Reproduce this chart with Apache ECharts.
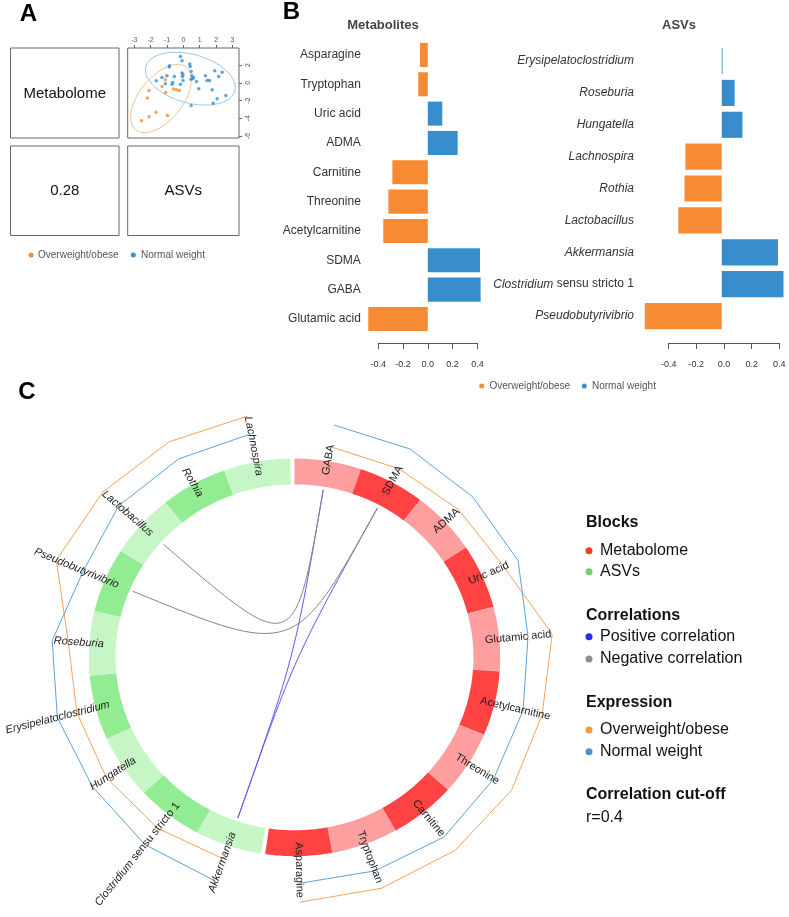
<!DOCTYPE html>
<html><head><meta charset="utf-8">
<script src="https://cdn.jsdelivr.net/npm/echarts@6/dist/echarts.min.js"></script>
<style>html,body{margin:0;padding:0;background:#fff}#c{width:789px;height:917px}</style>
</head><body><div id="c"></div>
<script>
// ================= DATA =================
// Panel A: pairs plot (component 1, Metabolome vs ASVs)
const scatterXTicks = [-3, -2, -1, 0, 1, 2, 3];
const scatterYTicks = [2, 0, -2, -4, -6];
const owObesePoints = [[-1.1,0.34],[-1.3,-0.43],[-0.6,-0.7],[-0.42,-0.79],[-0.25,-0.87],[-1.08,-1.1],[-2.1,-0.88],[-2.2,-1.73],[-1.67,-3.33],[-0.97,-3.7],[-2.09,-3.85],[-2.56,-4.3]];
const normalWeightPoints = [[-0.18,2.97],[-0.08,2.49],[0.39,2.11],[0.42,1.85],[-0.84,1.92],[-0.86,1.79],[0.48,1.28],[-0.08,1.1],[-0.02,0.92],[-0.06,0.72],[0.52,0.8],[0.58,0.45],[0.62,0.6],[0.46,0.41],[-1.0,0.8],[-1.31,0.6],[-1.66,0.22],[-0.55,0.72],[-0.69,-0.16],[-0.65,0.03],[-0.18,-0.16],[-0.02,0.26],[0.8,0.15],[0.94,-0.68],[1.35,0.8],[1.45,0.26],[1.6,0.26],[1.92,1.35],[2.16,0.72],[2.37,1.2],[1.76,-0.8],[2.07,-1.8],[1.82,-2.3],[2.6,-1.43],[0.48,-2.56],[-1.1,-0.12]];
const blockNames = ['Metabolome', 'ASVs'];
const blockCorrelation = '0.28';
const groupNames = ['Overweight/obese', 'Normal weight'];

// Panel B: loadings
const metaboliteNames = ['Asparagine','Tryptophan','Uric acid','ADMA','Carnitine','Threonine','Acetylcarnitine','SDMA','GABA','Glutamic acid'];
const metaboliteLoadings = [-0.063,-0.077,0.117,0.241,-0.286,-0.318,-0.359,0.421,0.426,-0.48];
const asvNames = ['Erysipelatoclostridium','Roseburia','Hungatella','Lachnospira','Rothia','Lactobacillus','Akkermansia','Clostridium sensu stricto 1','Pseudobutyrivibrio'];
const asvLoadings = [0.006,0.096,0.154,-0.27,-0.277,-0.323,0.418,0.459,-0.572];
const loadingTicks = [-0.4, -0.2, 0, 0.2, 0.4];

// Panel C: circos plot
const circosMetabolome = ['GABA','SDMA','ADMA','Uric acid','Glutamic acid','Acetylcarnitine','Threonine','Carnitine','Tryptophan','Asparagine'];
const circosASVs = ['Akkermansia','Clostridium sensu stricto 1','Hungatella','Erysipelatoclostridium','Roseburia','Pseudobutyrivibrio','Lactobacillus','Rothia','Lachnospira'];
const metabOWExpr = [1.074,1.076,1.090,1.115,1.258,1.238,1.249,1.246,1.236,1.232];
const metabNWExpr = [1.184,1.189,1.184,1.191,1.140,1.143,1.145,1.160,1.143,1.137];
const asvOWExpr = [1.071,1.087,1.097,1.094,1.103,1.257,1.249,1.244,1.235];
const asvNWExpr = [1.189,1.190,1.178,1.192,1.181,1.115,1.145,1.146,1.144];
const correlationLinks = [['GABA','Akkermansia',1],['SDMA','Akkermansia',1],['GABA','Lactobacillus',-1],['SDMA','Pseudobutyrivibrio',-1]];
const correlationCutoff = 'r=0.4';

// ================= STYLE / LAYOUT =================
const FONT = "'Liberation Sans', Arial, Helvetica, sans-serif";
const ORANGE = '#F68B33', BLUE = '#388ECC';
const R_OUT = 1.0, R_IN = 0.87, R_LINK = 0.853, R_LABEL = 0.93;
const GAP = 1.2;
const NFEAT = circosMetabolome.length + circosASVs.length;
const SLOT = (360 - 2 * GAP) / NFEAT;
const ringColors = [['#FF9E9E', '#FF4242'], ['#C6F5C6', '#92EC92']];

const features = circosMetabolome.map((n, i) => ({name: n, block: 0, i}))
  .concat(circosASVs.map((n, i) => ({name: n, block: 1, i})));
features.forEach((f, k) => { f.start = k * SLOT + f.block * GAP; f.mid = f.start + SLOT / 2; f.end = f.start + SLOT; });
const featIdx = name => features.findIndex(f => f.name === name);
function toXY(r, deg) { const a = deg * Math.PI / 180; return [r * Math.sin(a), r * Math.cos(a)]; }

function confEllipse(pts, k, n) {
  const m = pts.length;
  const mx = pts.reduce((s, p) => s + p[0], 0) / m, my = pts.reduce((s, p) => s + p[1], 0) / m;
  let sxx = 0, syy = 0, sxy = 0;
  pts.forEach(p => { const dx = p[0] - mx, dy = p[1] - my; sxx += dx * dx; syy += dy * dy; sxy += dx * dy; });
  sxx /= (m - 1); syy /= (m - 1); sxy /= (m - 1);
  const tr = (sxx + syy) / 2, d = Math.sqrt(((sxx - syy) / 2) ** 2 + sxy * sxy);
  const l1 = tr + d, l2 = Math.max(tr - d, 0);
  const th = 0.5 * Math.atan2(2 * sxy, sxx - syy);
  const out = [];
  for (let i = 0; i <= n; i++) {
    const t = 2 * Math.PI * i / n;
    const a = k * Math.sqrt(l1) * Math.cos(t), b = k * Math.sqrt(l2) * Math.sin(t);
    out.push([mx + a * Math.cos(th) - b * Math.sin(th), my + a * Math.sin(th) + b * Math.cos(th)]);
  }
  return out;
}
const CHI95 = Math.sqrt(5.991);

function italicName(n) {
  if (n.indexOf('Clostridium sensu') === 0) return '{i|Clostridium} sensu stricto 1';
  return '{i|' + n + '}';
}

const chart = echarts.init(document.getElementById('c'));

const hiddenValue = (idx, min, max) => ({type: 'value', gridIndex: idx, min, max, show: false});

const series = [];
// Panel A scatter
series.push({type: 'scatter', name: groupNames[0], xAxisIndex: 0, yAxisIndex: 0, data: owObesePoints, symbolSize: 3.5, itemStyle: {color: ORANGE}, z: 5});
series.push({type: 'scatter', name: groupNames[1], xAxisIndex: 0, yAxisIndex: 0, data: normalWeightPoints, symbolSize: 3.5, itemStyle: {color: BLUE}, z: 5});
series.push({type: 'line', xAxisIndex: 0, yAxisIndex: 0, data: confEllipse(owObesePoints, CHI95, 120), showSymbol: false, symbol: 'none', lineStyle: {color: '#F7BF8E', width: 1}, silent: true});
series.push({type: 'line', xAxisIndex: 0, yAxisIndex: 0, data: confEllipse(normalWeightPoints, CHI95, 120), showSymbol: false, symbol: 'none', lineStyle: {color: '#97C7EA', width: 1}, silent: true});
// Panel B bars
function barPair(vals, xi, yi, stack) {
  series.push({type: 'bar', name: groupNames[0], xAxisIndex: xi, yAxisIndex: yi, stack, barWidth: '82%',
    data: vals.map(v => v < 0 ? v : '-'), itemStyle: {color: ORANGE}});
  series.push({type: 'bar', name: groupNames[1], xAxisIndex: xi, yAxisIndex: yi, stack, barWidth: '82%',
    data: vals.map(v => v >= 0 ? v : '-'), itemStyle: {color: BLUE}});
}
barPair(metaboliteLoadings, 1, 1, 'm');
barPair(asvLoadings, 3, 3, 'a');
// Panel C expression lines
function exprLine(vals, block, color) {
  const fs = features.filter(f => f.block === block);
  series.push({type: 'line', xAxisIndex: 5, yAxisIndex: 5, symbol: 'none', showSymbol: false, silent: true,
    data: vals.map((v, i) => toXY(v, fs[i].mid)), lineStyle: {color, width: 1}, z: 2});
}
exprLine(metabOWExpr, 0, '#F7A25C');
exprLine(metabNWExpr, 0, '#5DA2DA');
exprLine(asvOWExpr, 1, '#F7A25C');
exprLine(asvNWExpr, 1, '#5DA2DA');
// ring
series.push({type: 'custom', xAxisIndex: 5, yAxisIndex: 5, silent: true, z: 3,
  data: features.map(f => [f.start, f.end, f.block, f.i % 2]),
  renderItem: (params, api) => {
    const a0 = api.value(0), a1 = api.value(1), N = 24;
    const pts = [];
    for (let t = 0; t <= N; t++) pts.push(api.coord(toXY(R_OUT, a0 + (a1 - a0) * t / N)));
    for (let t = N; t >= 0; t--) pts.push(api.coord(toXY(R_IN, a0 + (a1 - a0) * t / N)));
    return {type: 'polygon', shape: {points: pts}, style: {fill: ringColors[api.value(2)][api.value(3)], stroke: null}};
  }});
// links
series.push({type: 'custom', xAxisIndex: 5, yAxisIndex: 5, silent: true, z: 4,
  data: correlationLinks.map(l => [features[featIdx(l[0])].mid, features[featIdx(l[1])].mid, l[2]]),
  renderItem: (params, api) => {
    const p1 = api.coord(toXY(R_LINK, api.value(0))), p2 = api.coord(toXY(R_LINK, api.value(1)));
    const c = api.coord([0, 0]);
    return {type: 'bezierCurve', shape: {x1: p1[0], y1: p1[1], x2: p2[0], y2: p2[1], cpx1: c[0], cpy1: c[1], cpx2: c[0], cpy2: c[1]},
      style: {stroke: api.value(2) > 0 ? '#5B5BEF' : '#858585', fill: null, lineWidth: 1}};
  }});
// labels
series.push({type: 'custom', xAxisIndex: 5, yAxisIndex: 5, silent: true, z: 6,
  data: features.map((f, k) => [f.mid, k]),
  renderItem: (params, api) => {
    const ang = api.value(0), f = features[api.value(1)];
    const p = api.coord(toXY(R_LABEL, ang)), q = api.coord(toXY(R_LABEL + 0.3, ang));
    let rot = Math.atan2(-(q[1] - p[1]), q[0] - p[0]);
    let align = 'left';
    if (ang > 180) { rot += Math.PI; align = 'right'; }
    const txt = f.block === 1 ? italicName(f.name) : f.name;
    return {type: 'text', x: p[0], y: p[1], rotation: rot,
      style: {text: txt, fill: '#222', fontSize: 11, fontFamily: FONT, align, verticalAlign: 'middle',
        rich: {i: {fontStyle: 'italic', fontSize: 11, fontFamily: FONT, fill: '#222'}}}};
  }});

const loadAxis = (idx) => ({type: 'value', gridIndex: idx, min: -0.4, max: 0.4, interval: 0.2, position: 'bottom', splitLine: {show: false},
  axisLine: {show: true, onZero: false, lineStyle: {color: '#555'}}, axisTick: {show: true, length: 6, lineStyle: {color: '#555'}},
  axisLabel: {fontSize: 9, color: '#333', margin: 17, customValues: loadingTicks, formatter: v => v.toFixed(1)}});

const option = {
  animation: false,
  backgroundColor: '#fff',
  textStyle: {fontFamily: FONT},
  grid: [
    {left: 127.7, top: 48, width: 111.3, height: 90, show: true, borderColor: '#666', borderWidth: 1},
    {left: 365.8, top: 40.3, width: 124, height: 293.3},
    {left: 378.2, top: 333, width: 99.2, height: 10},
    {left: 641.0, top: 45.1, width: 152.1, height: 286.9},
    {left: 668.7, top: 333, width: 110.6, height: 10},
    {left: 27.1, top: 398.9, width: 534.8, height: 516.9}
  ],
  xAxis: [
    {type: 'value', gridIndex: 0, position: 'top', min: -3.40, max: 3.40, splitLine: {show: false}, axisLine: {show: false, onZero: false},
      axisTick: {show: true, length: 3, lineStyle: {color: '#666'}, customValues: scatterXTicks},
      axisLabel: {fontSize: 7, color: '#555', margin: 4, customValues: scatterXTicks}},
    hiddenValue(1, -0.5, 0.5),
    loadAxis(2),
    hiddenValue(3, -0.6, 0.5),
    loadAxis(4),
    hiddenValue(5, -1.3, 1.3)
  ],
  yAxis: [
    {type: 'value', gridIndex: 0, position: 'right', min: -6.24, max: 3.93, splitLine: {show: false}, axisLine: {show: false, onZero: false},
      axisTick: {show: true, length: 3, lineStyle: {color: '#666'}, customValues: scatterYTicks},
      axisLabel: {fontSize: 7, color: '#555', margin: 6, rotate: 90, customValues: scatterYTicks}},
    {type: 'category', gridIndex: 1, data: metaboliteNames, inverse: true, axisLine: {show: false}, axisTick: {show: false},
      axisLabel: {fontSize: 12, color: '#333', margin: 5}},
    {type: 'value', gridIndex: 2, show: false},
    {type: 'category', gridIndex: 3, data: asvNames, inverse: true, axisLine: {show: false}, axisTick: {show: false},
      axisLabel: {fontSize: 12, color: '#333', margin: 7, formatter: v => italicName(v),
        rich: {i: {fontStyle: 'italic', fontSize: 12, color: '#333'}}}},
    {type: 'value', gridIndex: 4, show: false},
    hiddenValue(5, -1.3, 1.3)
  ],
  series,
  graphic: buildGraphic()
};

function buildGraphic() {
  const g = [];
  const txt = (x, y, text, opt) => g.push({type: 'text', x, y, silent: true,
    style: Object.assign({text, fontFamily: FONT, fill: '#111', fontSize: 12, align: 'left', verticalAlign: 'middle'}, opt)});
  const dot = (x, y, r, color) => g.push({type: 'circle', silent: true, shape: {cx: x, cy: y, r}, style: {fill: color}});
  const box = (x, y, w, h) => g.push({type: 'rect', silent: true, shape: {x, y, width: w, height: h}, style: {fill: null, stroke: '#666', lineWidth: 1}});
  // panel letters
  txt(28.5, 14, 'A', {fontSize: 24, fontWeight: 'bold', align: 'center', fill: '#000'});
  txt(291.5, 12, 'B', {fontSize: 24, fontWeight: 'bold', align: 'center', fill: '#000'});
  txt(27, 392, 'C', {fontSize: 24, fontWeight: 'bold', align: 'center', fill: '#000'});
  // panel A boxes and texts
  box(10.5, 48, 108.5, 90);
  box(10.5, 146, 108.5, 89.5);
  box(127.7, 146, 111.3, 89.5);
  txt(64.75, 94, blockNames[0], {fontSize: 15, align: 'center'});
  txt(64.75, 191, blockCorrelation, {fontSize: 15, align: 'center'});
  txt(183.3, 191, blockNames[1], {fontSize: 15, align: 'center'});
  // panel A legend
  dot(31, 255, 2.5, ORANGE); txt(38, 255, groupNames[0], {fontSize: 10, fill: '#555'});
  dot(133.3, 255, 2.5, BLUE); txt(141, 255, groupNames[1], {fontSize: 10, fill: '#555'});
  // panel B titles + legend
  txt(383, 25, 'Metabolites', {fontSize: 13, fontWeight: 'bold', align: 'center', fill: '#444'});
  txt(679, 25, 'ASVs', {fontSize: 13, fontWeight: 'bold', align: 'center', fill: '#444'});
  dot(481.7, 386, 2.5, ORANGE); txt(489.5, 386, groupNames[0], {fontSize: 10, fill: '#555'});
  dot(584.3, 386, 2.5, BLUE); txt(592, 386, groupNames[1], {fontSize: 10, fill: '#555'});
  // panel C legend
  const hx = 586, dx = 589, tx = 600;
  txt(hx, 523, 'Blocks', {fontSize: 16, fontWeight: 'bold'});
  dot(dx, 550.7, 3.5, '#FF3A1E'); txt(tx, 550.7, blockNames[0], {fontSize: 16});
  dot(dx, 571.7, 3.5, '#72CE72'); txt(tx, 571.7, blockNames[1], {fontSize: 16});
  txt(hx, 616, 'Correlations', {fontSize: 16, fontWeight: 'bold'});
  dot(dx, 636.7, 3.5, '#2A2AFF'); txt(tx, 636.7, 'Positive correlation', {fontSize: 16});
  dot(dx, 659, 3.5, '#8C8C8C'); txt(tx, 659, 'Negative correlation', {fontSize: 16});
  txt(hx, 702.7, 'Expression', {fontSize: 16, fontWeight: 'bold'});
  dot(dx, 730, 3.5, '#F8993A'); txt(tx, 730, groupNames[0], {fontSize: 16});
  dot(dx, 751.7, 3.5, '#4C91D2'); txt(tx, 751.7, groupNames[1], {fontSize: 16});
  txt(hx, 795, 'Correlation cut-off', {fontSize: 16, fontWeight: 'bold'});
  txt(hx, 818, correlationCutoff, {fontSize: 16});
  return g;
}

chart.setOption(option);
</script>
</body></html>
